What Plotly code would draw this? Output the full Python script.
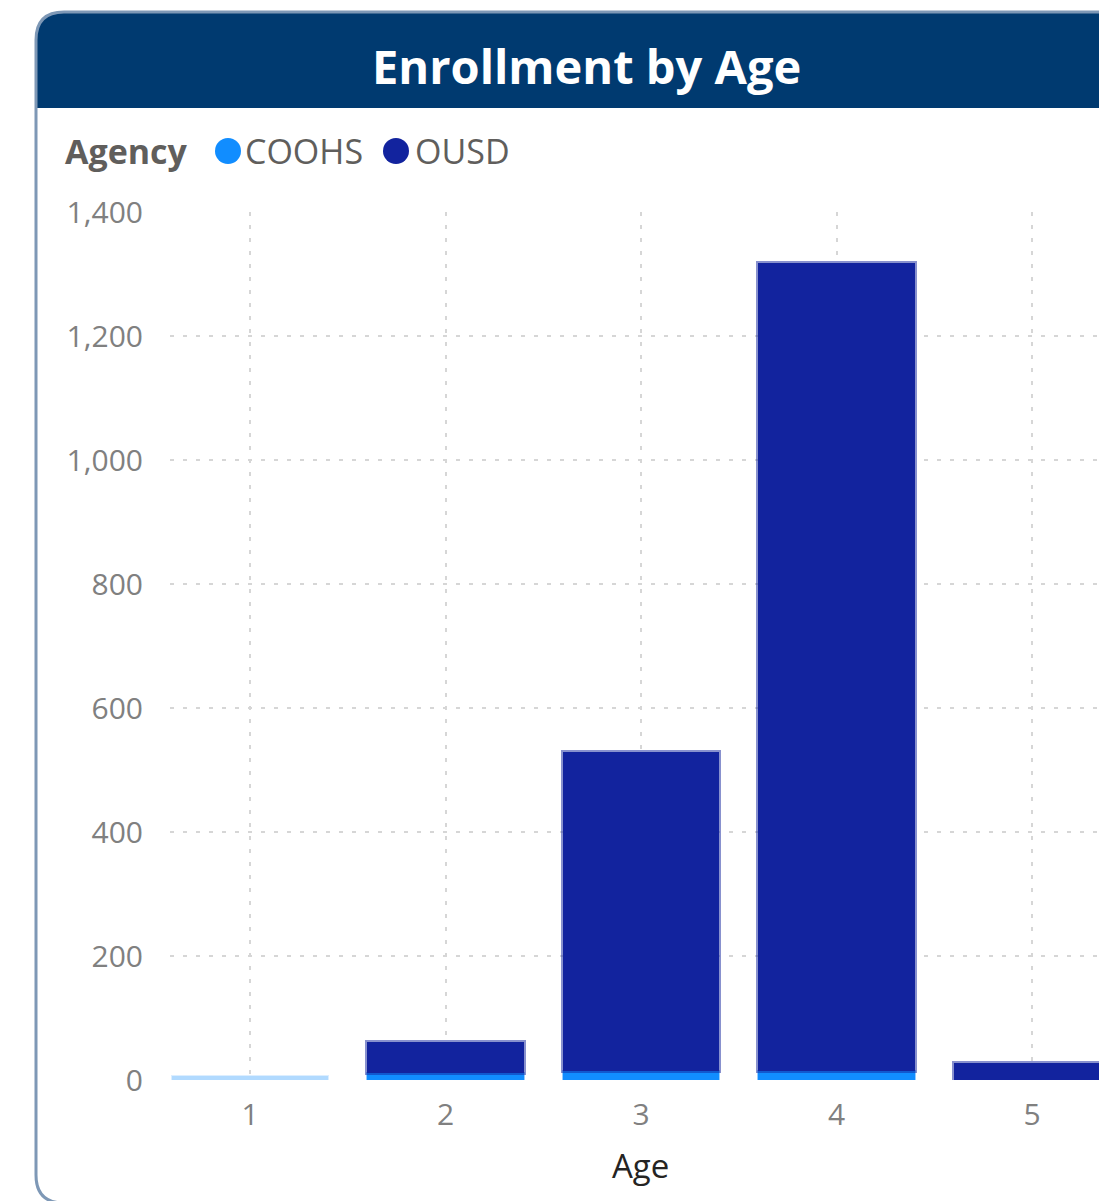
import plotly.graph_objects as go

ages = [1, 2, 3, 4, 5]
coohs = [6, 11, 15, 15, 0]
ousd = [0, 50, 514, 1303, 28]
coohs_opacity = [0.32, 1, 1, 1, 1]
ousd_outline = [0, 4, 4, 4, 4]
y_ticks = [0, 200, 400, 600, 800, 1000, 1200, 1400]

W, H = 1099, 1201
L, T = 170, 212
B = H - 1080
R = 0
PW, PH = W - L - R, H - T - B


def px(x):
    return (x - L) / PW


def py(y):
    return (1080 - y) / PH


C_COOHS = "#118DFF"
C_OUSD = "#12239E"
FONT = "Open Sans"

fig = go.Figure()
fig.add_trace(go.Bar(
    x=ages, y=coohs, name="COOHS", showlegend=False,
    marker=dict(color=C_COOHS, opacity=coohs_opacity,
                line=dict(color="rgba(17,141,255,0.45)", width=2)),
    width=0.8,
))
fig.add_trace(go.Bar(
    x=ages, y=ousd, name="OUSD", showlegend=False,
    marker=dict(color=C_OUSD, line=dict(color="rgba(18,35,158,0.5)", width=ousd_outline)),
    width=0.8,
))

# card + header shapes
r = 28
left, top, bottom, right, hdr = 36, 12, 1203, 1130, 108


def P(x, y):
    return f"{px(x):.5f},{py(y):.5f}"


header_path = (f"M {P(left, hdr)} L {P(left, top + r)} Q {P(left, top)} {P(left + r, top)} "
               f"L {P(right, top)} L {P(right, hdr)} Z")
card_path = (f"M {P(right, bottom)} L {P(left + r, bottom)} Q {P(left, bottom)} {P(left, bottom - r)} "
             f"L {P(left, top + r)} Q {P(left, top)} {P(left + r, top)} L {P(right, top)}")

shapes = [
    dict(type="path", xref="paper", yref="paper", path=header_path,
         fillcolor="#003A70", line=dict(width=0), layer="below"),
    dict(type="path", xref="paper", yref="paper", path=card_path,
         line=dict(color="#7E98B6", width=3), layer="below"),
]
for cx, col in [(228, C_COOHS), (396, C_OUSD)]:
    rr = 13
    shapes.append(dict(type="circle", xref="paper", yref="paper",
                       x0=px(cx - rr), x1=px(cx + rr), y0=py(151 + rr), y1=py(151 - rr),
                       fillcolor=col, line=dict(width=0)))

annotations = [
    dict(text="<b>Enrollment by Age</b>", x=px(586), y=py(66), xref="paper", yref="paper",
         showarrow=False, xanchor="center", yanchor="middle",
         font=dict(family=FONT, size=47, color="white")),
    dict(text="<b>Agency</b>", x=px(63), y=py(151), xref="paper", yref="paper",
         showarrow=False, xanchor="left", yanchor="middle",
         font=dict(family=FONT, size=34, color="#605E5C")),
    dict(text="COOHS", x=px(243), y=py(151), xref="paper", yref="paper",
         showarrow=False, xanchor="left", yanchor="middle",
         font=dict(family=FONT, size=34, color="#605E5C")),
    dict(text="OUSD", x=px(413), y=py(151), xref="paper", yref="paper",
         showarrow=False, xanchor="left", yanchor="middle",
         font=dict(family=FONT, size=34, color="#605E5C")),
    dict(text="Age", x=px(640), y=py(1165), xref="paper", yref="paper",
         showarrow=False, xanchor="center", yanchor="middle",
         font=dict(family=FONT, size=33, color="#252423")),
]

fig.update_layout(
    width=W, height=H,
    margin=dict(l=L, r=R, t=T, b=B, pad=0),
    barmode="stack",
    plot_bgcolor="white", paper_bgcolor="white",
    showlegend=False,
    shapes=shapes, annotations=annotations,
    font=dict(family=FONT),
    xaxis=dict(
        range=[1 - 80 / 195.5, 5 + 67 / 195.5],
        tickvals=ages, ticktext=[str(a) for a in ages],
        tickfont=dict(size=30, color="#808080"),
        showgrid=True, gridcolor="#D6D6D6", gridwidth=2, griddash="4px,9px",
        zeroline=False, showline=False, ticks="", ticklabelstandoff=14,
    ),
    yaxis=dict(
        range=[0, 1400], tickvals=y_ticks, tickformat=",",
        tickfont=dict(size=30, color="#808080"),
        showgrid=True, gridcolor="#D6D6D6", gridwidth=2, griddash="4px,9px",
        zeroline=False, showline=False, ticks="", ticklabelstandoff=26,
    ),
)

fig.write_html(
    "out.html",
    config={"displayModeBar": False},
    post_script="document.body.style.margin='0';document.body.style.overflow='hidden';",
)
